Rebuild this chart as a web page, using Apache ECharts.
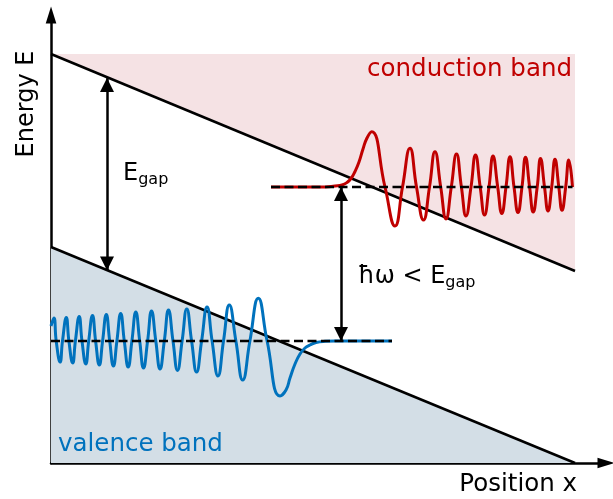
<!DOCTYPE html>
<html>
<head>
<meta charset="utf-8">
<script src="https://cdn.jsdelivr.net/npm/echarts@6/dist/echarts.min.js"></script>
<style>
  html, body { margin: 0; padding: 0; background: #ffffff; }
  #chart { width: 613px; height: 499px; }
</style>
</head>
<body>
<div id="chart"></div>
<script>
// Band diagram of a semiconductor under a uniform field (arbitrary units).
// x: position, y: energy.

// Band edges (tilted by the field)
const conductionEdge = [[0, 409], [524, 192]];
const valenceEdge = [[0, 216], [524, 0]];

// Energy levels of the two states and their horizontal extent
const conductionLevel = 276;
const valenceLevel = 122;
const conductionLevelSpan = [220, 521.5];
const valenceLevelSpan = [0, 341];

// Electron state in the conduction band (decays to the left, oscillates to the right)
const conductionWave = [
  [220, 276], [274, 276], [284, 277], [291, 278], [296, 280.5], [300, 284.5],
  [304, 291.5], [308, 301], [312, 314], [316, 325], [320.7, 331.3],
  [334, 276], [344, 237], [351.5, 276], [359, 314.7], [365.5, 276],
  [372.5, 243], [378.5, 276], [384, 311.3], [389.7, 276], [395, 244],
  [400.3, 276], [405.5, 309], [410.4, 276], [415, 247], [420, 276],
  [424.5, 308], [429.2, 276], [433.5, 248], [438, 276], [442, 307],
  [446.7, 276], [450.8, 249.5], [455, 276], [459, 306.3], [463, 276],
  [467, 250.5], [471, 276], [474.5, 305.7], [478.6, 276], [482.2, 251],
  [486.2, 276], [489.5, 304.5], [493.5, 276], [497, 252], [500.7, 276],
  [504, 303.7], [507.8, 276], [511, 252.7], [514.7, 276], [517.8, 303],
  [521.5, 276]
];

// Hole state in the valence band (oscillates to the left, decays to the right)
const valenceWave = [
  [0, 137], [2.9, 145], [5.2, 122], [9.1, 101], [11.5, 122], [15.3, 145.5],
  [17.9, 122], [21.7, 100], [24.4, 122], [28.2, 146.5], [31, 122],
  [34.8, 99], [37.7, 122], [41.5, 147.5], [44.6, 122], [48.3, 98],
  [51.6, 122], [55.3, 148.5], [58.7, 122], [62.4, 97], [65.9, 122],
  [69.7, 149.5], [73.3, 122], [77.2, 96], [80.9, 122], [84.8, 151],
  [88.7, 122], [92.5, 95], [96.6, 122], [100.5, 152], [104.8, 122],
  [109, 94], [113.3, 122], [117.5, 153], [122, 122], [126.5, 92.5],
  [131.1, 122], [135.8, 154], [140.6, 122], [145.6, 91], [150.6, 122],
  [156, 156], [161.1, 122], [167, 87], [172.5, 122], [178.3, 158],
  [184.9, 122], [191.7, 83], [198.9, 122], [207.3, 164.7], [216.1, 122],
  [229, 67], [235, 73], [239, 85], [244, 99], [249, 109], [254, 115],
  [259, 118], [265, 120.5], [274, 121.7], [284, 122], [341, 122]
];

// Double-headed arrows: band gap and photon energy
const gapArrow = [[56, 192.5], [56, 385]];
const photonArrow = [[290, valenceLevel], [290, conductionLevel]];

const RED = '#c00000';
const BLUE = '#0072bd';
const FONT = '"DejaVu Sans", sans-serif';
const AXIS_HEAD = 'path://M0,0 L5,16 L-5,16 Z';

const chart = echarts.init(document.getElementById('chart'), null, { renderer: 'canvas' });

function polygonSeries(name, pointsFn, color) {
  return {
    name: name,
    type: 'custom',
    coordinateSystem: 'cartesian2d',
    silent: true,
    z: 1,
    data: [0],
    renderItem: function (params, api) {
      return {
        type: 'polygon',
        shape: { points: pointsFn().map(function (p) { return api.coord(p); }) },
        style: { fill: color, stroke: null }
      };
    }
  };
}

const levelStyle = { color: '#000', width: 2.5, type: [9, 4.5] };
const arrowMarkLine = function (pts) {
  return {
    silent: true,
    symbol: ['triangle', 'triangle'],
    symbolSize: 14,
    symbolOffset: [[0, 7], [0, 7]],
    label: { show: false },
    emphasis: { disabled: true },
    lineStyle: { color: '#000', width: 2.5, type: 'solid' },
    data: [[{ coord: pts[0] }, { coord: pts[1] }]]
  };
};

const axisLine = {
  show: true, onZero: false,
  symbol: ['none', AXIS_HEAD], symbolSize: [11, 17],
  lineStyle: { color: '#000', width: 2.5 }
};

const option = {
  animation: false,
  backgroundColor: '#ffffff',
  grid: { left: 51, right: 7, top: 15, bottom: 36 },
  xAxis: {
    type: 'value', min: 0, max: 555, axisLine: axisLine,
    axisTick: { show: false }, axisLabel: { show: false }, splitLine: { show: false }
  },
  yAxis: {
    type: 'value', min: 0, max: 448, axisLine: axisLine,
    axisTick: { show: false }, axisLabel: { show: false }, splitLine: { show: false }
  },
  series: [
    polygonSeries('conduction band', function () {
      const top = conductionEdge[0][1];
      return [conductionEdge[0], [conductionEdge[1][0], top], conductionEdge[1]];
    }, '#f5e2e4'),
    polygonSeries('valence band', function () {
      return [valenceEdge[0], valenceEdge[1], [valenceEdge[0][0], valenceEdge[1][1]]];
    }, '#d3dee6'),
    {
      type: 'line', data: conductionEdge, showSymbol: false, silent: true, z: 2,
      lineStyle: { color: '#000', width: 2.5 }
    },
    {
      type: 'line', data: valenceEdge, showSymbol: false, silent: true, z: 2,
      lineStyle: { color: '#000', width: 2.5 }
    },
    {
      type: 'line', data: conductionWave, smooth: 0.5, showSymbol: false, silent: true, z: 3,
      lineStyle: { color: RED, width: 3 }
    },
    {
      type: 'line', data: valenceWave, smooth: 0.5, showSymbol: false, silent: true, z: 3,
      lineStyle: { color: BLUE, width: 3 }
    },
    {
      type: 'line', showSymbol: false, silent: true, z: 4,
      data: [[conductionLevelSpan[0], conductionLevel], [conductionLevelSpan[1], conductionLevel]],
      lineStyle: levelStyle
    },
    {
      type: 'line', showSymbol: false, silent: true, z: 4,
      data: [[valenceLevelSpan[0], valenceLevel], [valenceLevelSpan[1], valenceLevel]],
      lineStyle: levelStyle
    },
    {
      type: 'line', data: [], z: 5, markLine: arrowMarkLine(gapArrow)
    },
    {
      type: 'line', data: [], z: 5, markLine: arrowMarkLine(photonArrow)
    }
  ],
  graphic: [
    { type: 'text', x: 27, y: 104, rotation: Math.PI / 2, z: 10,
      style: { text: 'Energy E', font: '24px ' + FONT, fill: '#000', align: 'center', verticalAlign: 'middle' } },
    { type: 'text', x: 577, y: 485, z: 10,
      style: { text: 'Position x', font: '24.5px ' + FONT, fill: '#000', align: 'right', verticalAlign: 'middle' } },
    { type: 'text', x: 572, y: 70, z: 10,
      style: { text: 'conduction band', font: '24.5px ' + FONT, fill: RED, align: 'right', verticalAlign: 'middle' } },
    { type: 'text', x: 58, y: 445, z: 10,
      style: { text: 'valence band', font: '24.5px ' + FONT, fill: BLUE, align: 'left', verticalAlign: 'middle' } },
    { type: 'text', x: 123, y: 174, z: 10,
      style: {
        text: '{m|E}{s|gap}', align: 'left', verticalAlign: 'middle', fill: '#000',
        rich: {
          m: { fontSize: 24, fontFamily: FONT, lineHeight: 27, verticalAlign: 'middle', fill: '#000' },
          s: { fontSize: 16, fontFamily: FONT, lineHeight: 16, verticalAlign: 'bottom', fill: '#000' }
        }
      } },
    { type: 'text', x: 358, y: 277, z: 10,
      style: {
        text: '{m|ħω < E}{s|gap}', align: 'left', verticalAlign: 'middle', fill: '#000',
        rich: {
          m: { fontSize: 24, fontFamily: FONT, lineHeight: 27, verticalAlign: 'middle', fill: '#000' },
          s: { fontSize: 16, fontFamily: FONT, lineHeight: 16, verticalAlign: 'bottom', fill: '#000' }
        }
      } }
  ]
};

chart.setOption(option);
</script>
</body>
</html>
